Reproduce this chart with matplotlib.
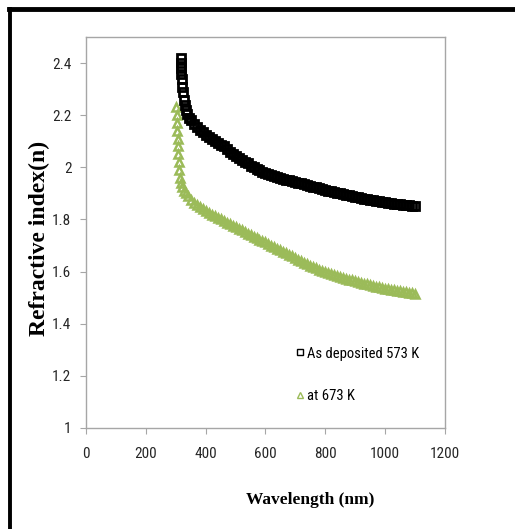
import numpy as np
import matplotlib
matplotlib.use("Agg")
import matplotlib.pyplot as plt
from matplotlib.lines import Line2D

# As deposited 573 K
wl_573 = [316, 317, 318, 319, 320, 322, 324, 327, 330, 334, 338, 343,
          350, 360, 370, 380, 390, 400, 410, 420, 430, 440, 450, 460, 470, 480, 490,
          500, 510, 520, 530, 540, 550, 560, 570, 580, 590, 600, 610, 620, 630, 640,
          650, 660, 670, 680, 690, 700, 710, 720, 730, 740, 750, 760, 770, 780, 790,
          800, 810, 820, 830, 840, 850, 860, 870, 880, 890, 900, 910, 920, 930, 940,
          950, 960, 970, 980, 990, 1000, 1010, 1020, 1030, 1040, 1050, 1060, 1070,
          1080, 1090, 1100]
n_573 = [2.42, 2.40, 2.38, 2.36, 2.34, 2.31, 2.29, 2.26, 2.24, 2.22, 2.205, 2.19,
         2.180, 2.165, 2.155, 2.145, 2.135, 2.125, 2.117, 2.110, 2.102, 2.095, 2.087,
         2.080, 2.070, 2.060, 2.052, 2.045, 2.037, 2.030, 2.022, 2.015, 2.007, 2.000,
         1.995, 1.990, 1.984, 1.978, 1.974, 1.970, 1.966, 1.962, 1.959, 1.956, 1.953,
         1.950, 1.947, 1.944, 1.941, 1.938, 1.935, 1.932, 1.929, 1.926, 1.923, 1.920,
         1.917, 1.914, 1.911, 1.908, 1.905, 1.902, 1.900, 1.897, 1.895, 1.892, 1.890,
         1.887, 1.885, 1.883, 1.880, 1.878, 1.876, 1.874, 1.872, 1.870, 1.868, 1.866,
         1.864, 1.863, 1.861, 1.860, 1.858, 1.857, 1.855, 1.854, 1.853, 1.852]

# annealed at 673 K
wl_673 = [302, 303, 304, 305, 306, 307, 308, 310, 312, 315, 318, 322, 327, 333,
          340, 350, 360, 370, 380, 390, 400, 410, 420, 430, 440, 450, 460, 470, 480,
          490, 500, 510, 520, 530, 540, 550, 560, 570, 580, 590, 600, 610, 620, 630,
          640, 650, 660, 670, 680, 690, 700, 710, 720, 730, 740, 750, 760, 770, 780,
          790, 800, 810, 820, 830, 840, 850, 860, 870, 880, 890, 900, 910, 920, 930,
          940, 950, 960, 970, 980, 990, 1000, 1010, 1020, 1030, 1040, 1050, 1060,
          1070, 1080, 1090, 1100]
n_673 = [2.23, 2.20, 2.17, 2.14, 2.11, 2.08, 2.05, 2.02, 1.99, 1.96, 1.94, 1.925,
         1.91, 1.90, 1.89, 1.875, 1.865, 1.855, 1.847, 1.840, 1.833, 1.826, 1.819,
         1.812, 1.806, 1.800, 1.793, 1.787, 1.781, 1.775, 1.770, 1.764, 1.758, 1.752,
         1.746, 1.740, 1.734, 1.729, 1.723, 1.718, 1.712, 1.706, 1.700, 1.694, 1.688,
         1.682, 1.676, 1.670, 1.664, 1.658, 1.652, 1.646, 1.640, 1.634, 1.628, 1.623,
         1.618, 1.613, 1.608, 1.603, 1.598, 1.594, 1.590, 1.586, 1.582, 1.578, 1.575,
         1.572, 1.569, 1.566, 1.563, 1.560, 1.557, 1.554, 1.551, 1.548, 1.545, 1.542,
         1.539, 1.537, 1.535, 1.533, 1.531, 1.529, 1.527, 1.525, 1.523, 1.521, 1.519,
         1.517, 1.515]

labels = ["As deposited 573 K", "at 673 K"]
xticks = [0, 200, 400, 600, 800, 1000, 1200]
yticks = [1, 1.2, 1.4, 1.6, 1.8, 2, 2.2, 2.4]
ytick_labels = ["1", "1.2", "1.4", "1.6", "1.8", "2", "2.2", "2.4"]

narrow = ["Roboto Condensed", "DejaVu Sans"]
serif = ["Liberation Serif", "DejaVu Serif"]
green = "#9BBB59"
grey = "#A6A6A6"

fig = plt.figure(figsize=(5.15, 5.29), dpi=100)
ax = fig.add_axes([0.167, 0.191, 0.697, 0.739])

ax.plot(wl_673, n_673, linestyle="none", marker="^", markersize=5.5,
        markerfacecolor="none", markeredgecolor=green, markeredgewidth=1.8,
        label=labels[1])
ax.plot(wl_573, n_573, linestyle="none", marker="s", markersize=5.5,
        markerfacecolor="none", markeredgecolor="black", markeredgewidth=2,
        label=labels[0])

ax.set_xlim(0, 1200)
ax.set_ylim(1, 2.5)
ax.set_xticks(xticks)
ax.set_yticks(yticks)
ax.set_xticklabels([str(t) for t in xticks], family=narrow, fontsize=11)
ax.set_yticklabels(ytick_labels, family=narrow, fontsize=11)
ax.tick_params(axis="both", direction="out", length=4.5, color=grey, colors="#262626")
ax.tick_params(axis="x", pad=9)
ax.tick_params(axis="y", pad=6)
for s in ax.spines.values():
    s.set_color(grey)
    s.set_linewidth(1)

ax.set_xlabel("Wavelength (nm)", family=serif, fontweight="bold", fontsize=12.5)
ax.xaxis.set_label_coords(0.624, -0.163)
ax.set_ylabel("Refractive index(n)", family=serif, fontweight="bold", fontsize=17)
ax.yaxis.set_label_coords(-0.1, 0.486)

h, l = ax.get_legend_handles_labels()
leg = ax.legend(h[::-1], l[::-1], loc="center left", bbox_to_anchor=(0.55, 0.136),
                frameon=False, handlelength=0.5, handletextpad=0.25,
                labelspacing=1.95, prop={"family": narrow, "size": 10.5})
for hd in leg.legend_handles:
    hd.set_markersize(4)
    hd.set_markeredgewidth(1)

# outer frame (top and left edges only)
fig.add_artist(Line2D([0.017, 1.0], [0.983, 0.983], color="black", lw=3.5,
                      transform=fig.transFigure))
fig.add_artist(Line2D([0.019, 0.019], [0.0, 0.983], color="black", lw=2.8,
                      transform=fig.transFigure))

fig.savefig("out.png", dpi=100)
